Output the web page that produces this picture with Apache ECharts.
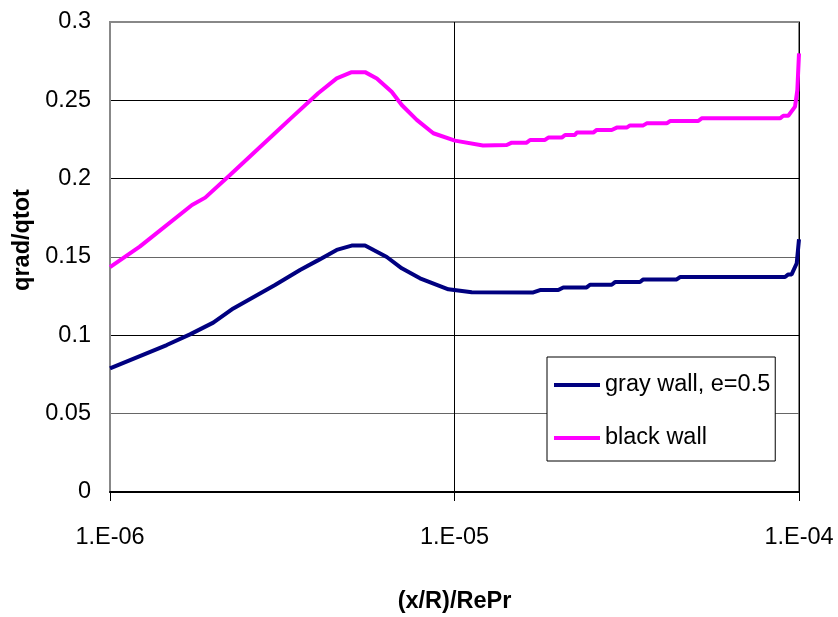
<!DOCTYPE html>
<html>
<head>
<meta charset="utf-8">
<title>qrad/qtot vs (x/R)/RePr</title>
<script src="https://cdn.jsdelivr.net/npm/echarts@6/dist/echarts.min.js"></script>
<style>
  html, body { margin: 0; padding: 0; background: #fff; }
  #chart { width: 838px; height: 617px; }
</style>
</head>
<body>
<div id="chart"></div>
<script>
// Axial position (x/R)/RePr for each curve
const grayWallX = [1.0e-6, 1.461e-6, 1.707e-6, 1.994e-6, 2.28e-6, 3.013e-6, 3.561e-6, 4.024e-6, 4.55e-6, 5.03e-6, 5.50e-6,
  6.36e-6, 7.03e-6, 7.94e-6, 9.60e-6, 1.122e-5, 1.693e-5, 1.771e-5, 2.001e-5, 2.069e-5, 2.419e-5, 2.474e-5,
  2.86e-5, 2.924e-5, 3.455e-5, 3.532e-5, 4.416e-5, 4.514e-5, 9.108e-5, 9.31e-5, 9.52e-5, 9.85e-5, 1.0e-4];
const grayWallY = [0.0789, 0.0938, 0.1006, 0.1081, 0.1172, 0.1321, 0.1417, 0.148, 0.1545, 0.1573, 0.1573,
  0.150, 0.1428, 0.1364, 0.1294, 0.1275, 0.1274, 0.1289, 0.1289, 0.1306, 0.1306, 0.1323,
  0.1323, 0.1340, 0.1340, 0.1357, 0.1357, 0.1372, 0.1372, 0.1389, 0.1389, 0.146, 0.1613];

const blackWallX = [1.0e-6, 1.22e-6, 1.73e-6, 1.89e-6, 2.23e-6, 3.01e-6, 3.33e-6, 4.02e-6, 4.55e-6, 5.03e-6, 5.50e-6,
  5.95e-6, 6.57e-6, 7.03e-6, 7.77e-6, 8.68e-6, 1.003e-5, 1.21e-5, 1.418e-5, 1.466e-5, 1.62e-5, 1.657e-5,
  1.831e-5, 1.872e-5, 2.048e-5, 2.094e-5, 2.238e-5, 2.263e-5, 2.529e-5, 2.587e-5, 2.86e-5, 2.957e-5,
  3.161e-5, 3.232e-5, 3.532e-5, 3.613e-5, 4.131e-5, 4.222e-5, 5.101e-5, 5.218e-5, 8.808e-5, 9.004e-5,
  9.31e-5, 9.74e-5, 9.89e-5, 1.0e-4];
const blackWallY = [0.1435, 0.1566, 0.1832, 0.1879, 0.2023, 0.229, 0.238, 0.2545, 0.264, 0.268, 0.268,
  0.264, 0.2555, 0.247, 0.2375, 0.229, 0.2243, 0.2212, 0.2215, 0.2230, 0.2230, 0.2247,
  0.2247, 0.2262, 0.2262, 0.2279, 0.2279, 0.2294, 0.2294, 0.2311, 0.2311, 0.2326,
  0.2326, 0.2340, 0.2340, 0.2353, 0.2353, 0.2368, 0.2368, 0.2385, 0.2385, 0.2402,
  0.2402, 0.246, 0.2566, 0.28];

const seriesNames = ['gray wall, e=0.5', 'black wall'];
const seriesColors = ['#000080', '#FF00FF'];

// Minor log gridlines (2..9 in each decade)
const minorGridX = [2e-6, 3e-6, 4e-6, 5e-6, 6e-6, 7e-6, 8e-6, 9e-6,
  2e-5, 3e-5, 4e-5, 5e-5, 6e-5, 7e-5, 8e-5, 9e-5];

const xRange = [1e-6, 1e-4];
const yTicks = { min: 0, max: 0.3, interval: 0.05 };

const FONT = "'Liberation Sans', Arial, sans-serif";
const FS = 23.5;

function zip(xs, ys) { return xs.map((x, i) => [x, ys[i]]); }

function sciLabel(v) {
  const e = Math.round(Math.log10(v));
  const s = String(Math.abs(e)).padStart(2, '0');
  return '1.E' + (e < 0 ? '-' : '+') + s;
}

const chart = echarts.init(document.getElementById('chart'), null, { renderer: 'canvas' });

chart.setOption({
  backgroundColor: '#ffffff',
  animation: false,
  grid: {
    left: 110, right: 39, top: 22, bottom: 125,
    outerBoundsMode: 'none',
    containLabel: false,
    show: true, borderColor: '#888888', borderWidth: 2, backgroundColor: '#ffffff'
  },
  legend: {
    data: seriesNames,
    orient: 'vertical',
    left: 547, top: 357,
    padding: [16, 5, 11, 7],
    itemGap: 29,
    itemWidth: 46, itemHeight: 4,
    itemTextGap: 5,
    icon: 'rect',
    backgroundColor: '#ffffff',
    borderColor: '#000000', borderWidth: 1,
    textStyle: { fontFamily: FONT, fontSize: FS, color: '#000' }
  },
  xAxis: {
    type: 'log',
    logBase: 10,
    min: xRange[0], max: xRange[1],
    name: '(x/R)/RePr',
    nameLocation: 'middle',
    nameGap: 98,
    nameTextStyle: { fontFamily: FONT, fontSize: FS, fontWeight: 'bold', color: '#000' },
    axisLine: { show: true, lineStyle: { color: '#000', width: 2 } },
    axisTick: { show: true, inside: false, length: 9, lineStyle: { color: '#000', width: 1 } },
    axisLabel: { margin: 34, fontFamily: FONT, fontSize: FS, color: '#000', formatter: sciLabel },
    splitLine: { show: true, lineStyle: { color: '#000', width: 1 } },
    minorTick: { show: false },
    minorSplitLine: { show: false }
  },
  yAxis: {
    type: 'value',
    min: yTicks.min, max: yTicks.max, interval: yTicks.interval,
    name: 'qrad/qtot',
    nameLocation: 'middle',
    nameGap: 74,
    nameTextStyle: { fontFamily: FONT, fontSize: FS, fontWeight: 'bold', color: '#000', padding: [0, 0, 0, 34] },
    axisLine: { show: true, lineStyle: { color: '#888888', width: 2 } },
    axisTick: { show: false },
    axisLabel: { margin: 19, fontFamily: FONT, fontSize: FS, color: '#000' },
    splitLine: {
      show: true,
      lineStyle: { color: ['#000', '#666', '#000', '#666', '#000', '#000', '#888'], width: 1 }
    }
  },
  series: [
    {
      name: 'minor grid',
      type: 'line',
      data: [],
      silent: true,
      z: 1,
      markLine: {
        silent: true,
        symbol: ['none', 'none'],
        label: { show: false },
        lineStyle: { color: '#444', width: 1, type: 'solid' },
        data: minorGridX.map(v => ({ xAxis: v }))
      }
    },
    {
      name: seriesNames[0],
      type: 'line',
      data: zip(grayWallX, grayWallY),
      showSymbol: false,
      symbol: 'none',
      z: 5,
      lineStyle: { color: seriesColors[0], width: 4 },
      itemStyle: { color: seriesColors[0] }
    },
    {
      name: seriesNames[1],
      type: 'line',
      data: zip(blackWallX, blackWallY),
      showSymbol: false,
      symbol: 'none',
      z: 5,
      lineStyle: { color: seriesColors[1], width: 4 },
      itemStyle: { color: seriesColors[1] }
    }
  ]
});
</script>
</body>
</html>
